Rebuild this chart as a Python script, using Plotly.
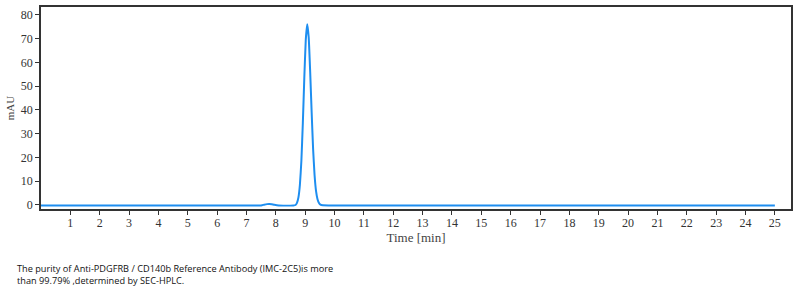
import plotly.graph_objects as go

# Chromatogram samples (time in min, signal in mAU)
time_min = [0.0, 7.0, 7.5, 7.6, 7.7, 7.78, 7.86, 7.95, 8.1, 8.6, 8.67, 8.72, 8.77, 8.82, 8.87,
            8.92, 8.97, 9.02, 9.07, 9.12, 9.17, 9.22, 9.27, 9.32, 9.37, 9.42, 9.47,
            9.52, 9.6, 9.8, 12.0, 25.0]
signal_mau = [-0.2, -0.2, -0.2, 0.1, 0.35, 0.4, 0.3, 0.05, -0.2, -0.2, 0.0, 0.9, 3.2, 8.5, 18.5,
              34.5, 53.5, 69.5, 76.0, 70.5, 56.0, 39.0, 23.5, 12.5, 5.8, 2.4, 0.8,
              0.1, -0.15, -0.2, -0.2, -0.2]
x_ticks = list(range(1, 26))
y_ticks = list(range(0, 81, 10))

caption = ("The purity of Anti-PDGFRB / CD140b Reference Antibody (IMC-2C5)is more<br>"
           "than 99.79% ,determined by SEC-HPLC.")

fig = go.Figure()
fig.add_trace(go.Scatter(x=time_min, y=signal_mau, mode="lines",
                         line=dict(color="#1e8ef0", width=2, shape="spline", smoothing=0.4),
                         hoverinfo="skip"))

axis_common = dict(showgrid=False, zeroline=False, showline=True, linecolor="#333333",
                   linewidth=1.5, mirror=True, ticks="outside", ticklen=4, tickwidth=1,
                   tickcolor="#333333",
                   tickfont=dict(family="Liberation Serif, DejaVu Serif, serif", size=12,
                                 color="#333333"))

fig.update_xaxes(range=[0, 25.55], tickvals=x_ticks, ticktext=[str(v) for v in x_ticks],
                 ticklabelstandoff=-2,
                 title=dict(text="Time [min]", standoff=2,
                            font=dict(family="Liberation Serif, DejaVu Serif, serif", size=13,
                                      color="#444444")),
                 **axis_common)
fig.update_yaxes(range=[-1.7, 83.3], tickvals=y_ticks, ticktext=[str(v) for v in y_ticks],
                 title=dict(text="mAU", standoff=4,
                            font=dict(family="Liberation Serif, DejaVu Serif, serif", size=11,
                                      color="#444444")),
                 **axis_common)

fig.add_annotation(text=caption, xref="paper", yref="paper", x=-26/750, y=-0.25,
                   xanchor="left", yanchor="top", align="left", showarrow=False,
                   font=dict(family="Open Sans, Liberation Sans, sans-serif", size=9.2,
                             color="#111111"))

fig.update_layout(width=807, height=293, margin=dict(l=41, r=16, t=5, b=84),
                  plot_bgcolor="white", paper_bgcolor="white", showlegend=False)

fig.write_html("out.html")
